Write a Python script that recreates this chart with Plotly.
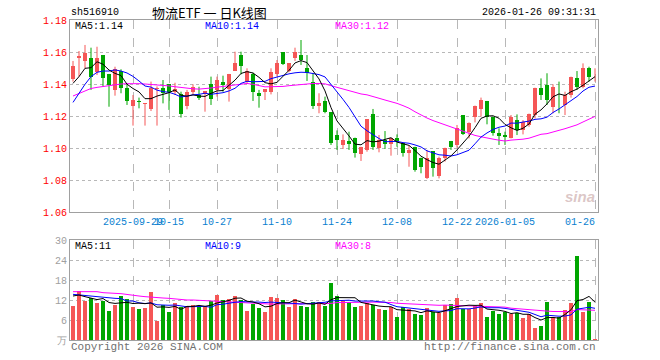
import math
import plotly.graph_objects as go

# ---------------- data ----------------
dates = (
    ["2025-09-%02d" % d for d in [15, 16, 17, 18, 19, 22, 23, 24, 25, 26, 29, 30]]
    + ["2025-10-%02d" % d for d in [9, 10, 13, 14, 15, 16, 17, 20, 21, 22, 23, 24, 27, 28, 29, 30, 31]]
    + ["2025-11-%02d" % d for d in [3, 4, 5, 6, 7, 10, 11, 12, 13, 14, 17, 18, 19, 20, 21, 24, 25, 26, 27, 28]]
    + ["2025-12-%02d" % d for d in [1, 2, 3, 4, 5, 8, 9, 10, 11, 12, 15, 16, 17, 18, 19, 22, 23, 24, 25, 26, 29, 30, 31]]
    + ["2026-01-%02d" % d for d in [5, 6, 7, 8, 9, 12, 13, 14, 15, 16, 19, 20, 21, 22, 23, 26]]
)

opens = [1.1429, 1.1565, 1.1546, 1.1565, 1.1477, 1.1581, 1.1463, 1.1363, 1.1481, 1.1373,
         1.1265, 1.1292, 1.1277, 1.1244, 1.1370, 1.1373, 1.1398, 1.1348, 1.1335, 1.1263,
         1.1348, 1.1329, 1.1335, 1.1398, 1.1363, 1.1415, 1.1367, 1.1481, 1.1581, 1.1415,
         1.1460, 1.1342, 1.1348, 1.1348, 1.1460, 1.1598, 1.1481, 1.1565, 1.1581, 1.1498,
         1.1415, 1.1263, 1.1296, 1.1223, 1.1081, 1.1019, 1.1044, 1.1065, 1.0960, 1.0988,
         1.1213, 1.0998, 1.1050, 1.1023, 1.1060, 1.1029, 1.0967, 1.1008, 1.0940, 1.0810,
         1.0981, 1.0827, 1.0935, 1.1044, 1.1019, 1.1206, 1.1102, 1.1196, 1.1244, 1.1294,
         1.1196, 1.1096, 1.1081, 1.1065, 1.1175, 1.1113, 1.1144, 1.1206, 1.1377, 1.1394,
         1.1258, 1.1302, 1.1269, 1.1331, 1.1435, 1.1383, 1.1502, 1.1448]
highs = [1.1544, 1.1606, 1.1644, 1.1627, 1.1633, 1.1581, 1.1463, 1.1508, 1.1492, 1.1404,
         1.1331, 1.1315, 1.1281, 1.1415, 1.1385, 1.1425, 1.1398, 1.1408, 1.1352, 1.1363,
         1.1398, 1.1383, 1.1356, 1.1446, 1.1446, 1.1452, 1.1463, 1.1602, 1.1602, 1.1498,
         1.1471, 1.1363, 1.1367, 1.1498, 1.1550, 1.1598, 1.1529, 1.1627, 1.1675, 1.1581,
         1.1467, 1.1342, 1.1321, 1.1223, 1.1110, 1.1085, 1.1102, 1.1065, 1.1008, 1.1181,
         1.1244, 1.1081, 1.1106, 1.1060, 1.1085, 1.1029, 1.1015, 1.1008, 1.0940, 1.0988,
         1.0981, 1.0946, 1.1002, 1.1044, 1.1144, 1.1206, 1.1160, 1.1265, 1.1315, 1.1294,
         1.1196, 1.1123, 1.1102, 1.1206, 1.1210, 1.1175, 1.1215, 1.1377, 1.1435, 1.1467,
         1.1398, 1.1415, 1.1352, 1.1446, 1.1481, 1.1529, 1.1508, 1.1498]
lows = [1.1415, 1.1446, 1.1498, 1.1363, 1.1456, 1.1383, 1.1258, 1.1327, 1.1342, 1.1269,
        1.1140, 1.1248, 1.1140, 1.1231, 1.1140, 1.1279, 1.1238, 1.1331, 1.1190, 1.1242,
        1.1335, 1.1300, 1.1227, 1.1269, 1.1321, 1.1352, 1.1290, 1.1481, 1.1460, 1.1405,
        1.1294, 1.1252, 1.1300, 1.1335, 1.1446, 1.1519, 1.1473, 1.1544, 1.1519, 1.1419,
        1.1244, 1.1217, 1.1217, 1.1019, 1.0988, 1.0994, 1.0988, 1.0940, 1.0919, 1.0977,
        1.0988, 1.0973, 1.0994, 1.0952, 1.1008, 1.0946, 1.0883, 1.0852, 1.0842, 1.0806,
        1.0821, 1.0810, 1.0915, 1.0988, 1.1002, 1.1081, 1.1060, 1.1160, 1.1196, 1.1148,
        1.1077, 1.1019, 1.1019, 1.1060, 1.1081, 1.1085, 1.1133, 1.1185, 1.1300, 1.1269,
        1.1217, 1.1217, 1.1206, 1.1315, 1.1363, 1.1373, 1.1415, 1.1415]
closes = [1.1513, 1.1575, 1.1596, 1.1446, 1.1565, 1.1435, 1.1394, 1.1492, 1.1377, 1.1296,
          1.1300, 1.1288, 1.1281, 1.1377, 1.1377, 1.1342, 1.1352, 1.1367, 1.1210, 1.1348,
          1.1383, 1.1315, 1.1356, 1.1306, 1.1425, 1.1394, 1.1463, 1.1533, 1.1515, 1.1481,
          1.1352, 1.1327, 1.1367, 1.1477, 1.1529, 1.1525, 1.1529, 1.1598, 1.1550, 1.1467,
          1.1265, 1.1279, 1.1223, 1.1029, 1.1050, 1.1048, 1.1027, 1.0967, 1.1008, 1.1181,
          1.1008, 1.1050, 1.1023, 1.1060, 1.1044, 1.0967, 1.0988, 1.0863, 1.0883, 1.0935,
          1.0877, 1.0935, 1.0998, 1.1008, 1.1123, 1.1085, 1.1154, 1.1265, 1.1300, 1.1196,
          1.1092, 1.1077, 1.1071, 1.1196, 1.1113, 1.1160, 1.1210, 1.1377, 1.1331, 1.1300,
          1.1383, 1.1298, 1.1331, 1.1446, 1.1383, 1.1502, 1.1446, 1.1452]
volumes = [10.2, 14.7, 11.8, 12.7, 11.2, 11.8, 8.7, 10.5, 13.2, 12.3,
           10.0, 9.3, 9.7, 14.4, 5.8, 10.5, 8.5, 11.2, 10.0, 10.2,
           10.5, 10.0, 9.8, 11.7, 13.5, 12.0, 12.3, 13.2, 12.0, 8.7,
           10.8, 9.7, 8.5, 13.0, 12.7, 12.0, 9.8, 12.3, 10.2, 10.0,
           11.5, 11.5, 10.2, 17.2, 13.2, 11.7, 11.5, 9.8, 10.2, 11.2,
           10.5, 9.2, 9.0, 10.0, 6.8, 9.8, 9.2, 7.8, 7.4, 9.5,
           8.3, 8.2, 10.5, 10.8, 12.5, 9.2, 9.2, 10.2, 11.0, 6.8,
           8.8, 7.8, 8.5, 7.8, 8.0, 6.5, 7.8, 3.5, 4.2, 11.5,
           6.8, 6.8, 9.0, 11.2, 25.2, 8.5, 11.5, 0.4]

# moving-average values at the start of the window (read from the picture,
# their windows reach back before the first shown day)
ma5_head = [1.1404, 1.1446, 1.1498, 1.1502]
ma10_head = [1.1285, 1.1342, 1.1398, 1.1446, 1.1473, 1.1481, 1.1481, 1.1488, 1.1481]
ma30_head = [1.1325, 1.1342, 1.1360, 1.1372, 1.1379, 1.1385, 1.1392, 1.1397, 1.1400, 1.1402,
             1.1403, 1.1402, 1.1400, 1.1398, 1.1395, 1.1392, 1.1388, 1.1383, 1.1378, 1.1373,
             1.1370, 1.1368, 1.1370, 1.1375, 1.1380, 1.1385, 1.1390, 1.1395, 1.1398]
vol_ma5_head = [13.2, 13.5, 13.0, 12.5]
vol_ma10_head = [13.7, 13.5, 13.4, 13.2, 13.0, 12.8, 12.6, 12.5, 12.4]
vol_ma30_head = [14.5, 14.5, 14.5, 14.5, 14.5, 14.2, 14.0, 14.0, 13.9, 13.6,
                 13.4, 13.2, 13.0, 12.8, 12.7, 12.6, 12.5, 12.3, 12.1, 12.0,
                 12.0, 11.9, 11.8, 11.7, 11.6, 11.5, 11.4, 11.3, 11.2]

tick_dates = ["2025-09-29", "2025-10-15", "2025-10-27", "2025-11-10", "2025-11-24",
              "2025-12-08", "2025-12-22", "2026-01-05", "2026-01-26"]
tick_text = ["2025-09-29", "10-15", "10-27", "11-10", "11-24", "12-08", "12-22",
             "2026-01-05", "01-26"]

price_ticks = [1.06, 1.08, 1.10, 1.12, 1.14, 1.16, 1.18]
vol_ticks = [0, 6, 12, 18, 24, 30]
vol_tick_text = ["万", "6", "12", "18", "24", "30"]

title_code = "sh516910"
title_name = "物流ETF\u00a0一\u00a0日K线图"
timestamp = "2026-01-26 09:31:31"

# ---------------- helpers ----------------
def moving_avg(vals, n, head):
    out = []
    for i in range(len(vals)):
        if i >= n - 1:
            out.append(sum(vals[i - n + 1:i + 1]) / n)
        else:
            out.append(head[i])
    return out

N = len(dates)
xs = list(range(N))
RED = "#f55656"
GREEN = "#00a600"
GRID = "#b8b8b8"
AXIS = "#a0a0a0"
MONO = "Liberation Mono, DejaVu Sans Mono, monospace"

ma5 = moving_avg(closes, 5, ma5_head)
ma10 = moving_avg(closes, 10, ma10_head)
ma30 = moving_avg(closes, 30, ma30_head)
vma5 = moving_avg(volumes, 5, vol_ma5_head)
vma10 = moving_avg(volumes, 10, vol_ma10_head)
vma30 = moving_avg(volumes, 30, vol_ma30_head)

fig = go.Figure()

# wicks
for up, col in [(True, RED), (False, GREEN)]:
    wx, wy = [], []
    for i in xs:
        if (closes[i] >= opens[i]) == up:
            wx += [i, i, None]
            wy += [lows[i], highs[i], None]
    fig.add_trace(go.Scatter(x=wx, y=wy, mode="lines", line=dict(color=col, width=1),
                             xaxis="x", yaxis="y", hoverinfo="skip", showlegend=False))

# bodies
MIN_BODY = 0.0006
for up, col in [(True, RED), (False, GREEN)]:
    bx, bb, bh = [], [], []
    for i in xs:
        if (closes[i] >= opens[i]) == up:
            lo = min(opens[i], closes[i])
            h = abs(closes[i] - opens[i])
            if h < MIN_BODY:
                lo -= (MIN_BODY - h) / 2
                h = MIN_BODY
            bx.append(i)
            bb.append(lo)
            bh.append(h)
    fig.add_trace(go.Bar(x=bx, y=bh, base=bb, width=0.78, marker=dict(color=col, line=dict(width=0)),
                         xaxis="x", yaxis="y", hoverinfo="skip", showlegend=False))

# price MAs
for vals, col in [(ma30, "#ff00ff"), (ma10, "#0000ff"), (ma5, "#000000")]:
    fig.add_trace(go.Scatter(x=xs, y=vals, mode="lines", line=dict(color=col, width=1),
                             xaxis="x", yaxis="y", hoverinfo="skip", showlegend=False))

# volume bars
for up, col in [(True, RED), (False, GREEN)]:
    vx = [i for i in xs if (closes[i] >= opens[i]) == up]
    vy = [volumes[i] for i in vx]
    fig.add_trace(go.Bar(x=vx, y=vy, width=0.82, marker=dict(color=col, line=dict(width=0)),
                         xaxis="x2", yaxis="y2", hoverinfo="skip", showlegend=False))

for vals, col in [(vma30, "#ff00ff"), (vma10, "#0000ff"), (vma5, "#000000")]:
    fig.add_trace(go.Scatter(x=xs, y=vals, mode="lines", line=dict(color=col, width=1),
                             xaxis="x2", yaxis="y2", hoverinfo="skip", showlegend=False))

tick_idx = [dates.index(d) for d in tick_dates]

common_x = dict(range=[-0.5, N - 0.5], tickvals=tick_idx, showticklabels=False,
                showgrid=True, gridcolor=GRID, griddash="dash", gridwidth=1,
                showline=True, linecolor=AXIS, linewidth=1, mirror=True,
                zeroline=False, ticks="", fixedrange=True)

fig.update_layout(
    width=660, height=360,
    margin=dict(l=70, r=62, t=20, b=20),
    paper_bgcolor="white", plot_bgcolor="white",
    barmode="overlay", bargap=0,
    showlegend=False,
    xaxis=dict(**common_x, anchor="y"),
    xaxis2=dict(**common_x, anchor="y2", matches="x"),
    yaxis=dict(domain=[0.4, 1.0], range=[1.06, 1.18], tickvals=price_ticks,
               ticktext=["%.2f" % v for v in price_ticks],
               tickfont=dict(family=MONO, size=10, color="#ff0000"),
               showgrid=True, gridcolor=GRID, griddash="dot", gridwidth=1,
               showline=True, linecolor=AXIS, linewidth=1, mirror=True,
               zeroline=False, ticks="", fixedrange=True),
    yaxis2=dict(domain=[0.0, 0.3125], range=[0, 30], tickvals=vol_ticks,
                ticktext=vol_tick_text,
                tickfont=dict(family=MONO, size=10, color="#a0a0a0"),
                showgrid=True, gridcolor=GRID, griddash="dot", gridwidth=1,
                showline=True, linecolor=AXIS, linewidth=1, mirror=True,
                zeroline=False, ticks="", fixedrange=True),
)

def px_to_paper(px, py):
    return (px - 70) / 528.0, (340 - py) / 320.0

anns = []
def add_text(text, px, py, color="#000000", size=10, xanchor="left", family=MONO):
    x, y = px_to_paper(px, py)
    anns.append(dict(text=text, x=x, y=y, xref="paper", yref="paper", xanchor=xanchor,
                     yanchor="middle", showarrow=False,
                     font=dict(family=family, size=size, color=color)))

add_text(title_code, 69, 13)
add_text(title_name, 150, 12, size=13, family="Noto Sans CJK SC, sans-serif")
add_text(timestamp, 598, 13, xanchor="right")

add_text("MA5:%.2f" % ma5[-1], 73, 26)
add_text("MA10:%.2f" % ma10[-1], 203, 26, color="#0000ff")
add_text("MA30:%.2f" % ma30[-1], 333, 26, color="#ff00ff")

add_text("MA5:%d" % math.floor(vma5[-1]), 73, 246)
add_text("MA10:%d" % math.floor(vma10[-1]), 203, 246, color="#0000ff")
add_text("MA30:%d" % math.floor(vma30[-1]), 333, 246, color="#ff00ff")

for idx, lab in zip(tick_idx, tick_text):
    px = 70 + (idx + 0.5) * 6
    if idx == N - 1:
        add_text(lab, 597, 222, color="#0a7fd0", xanchor="right")
    else:
        add_text(lab, px, 222, color="#0a7fd0", xanchor="center")

add_text("Copyright 2026 SINA.COM", 69, 347, color="#707070", size=11)
add_text("http://finance.sina.com.cn", 598, 347, color="#707070", size=11, xanchor="right")
add_text("<i><b>sina</b></i>", 597, 196, color="rgba(190,150,150,0.55)", size=15,
         xanchor="right", family="Liberation Sans, sans-serif")

fig.update_layout(annotations=anns)

fig.write_html("out.html", config={"displayModeBar": False, "staticPlot": True},
               post_script="document.body.style.margin='0';document.body.style.overflow='hidden';")
